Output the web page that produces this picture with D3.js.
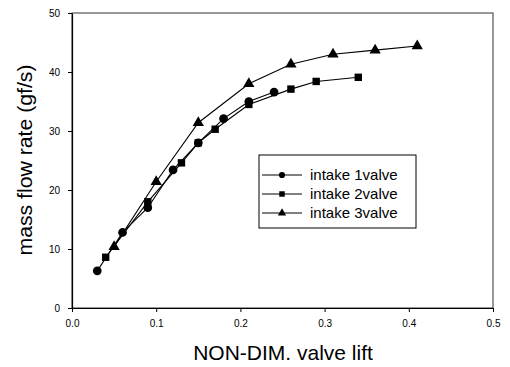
<!DOCTYPE html>
<html><head><meta charset="utf-8">
<script src="https://cdn.jsdelivr.net/npm/d3@7"></script>
<style>body{margin:0;background:#fff}svg{display:block}</style>
</head><body>
<svg id="c" width="510" height="367"></svg>
<script>
const seriesNames = ["intake 1valve", "intake 2valve", "intake 3valve"];
const x1 = [0.03, 0.06, 0.09, 0.12, 0.15, 0.18, 0.21, 0.24];
const y1 = [6.3, 12.8, 17.0, 23.4, 28.0, 32.1, 35.0, 36.6];
const x2 = [0.04, 0.09, 0.13, 0.15, 0.17, 0.21, 0.26, 0.29, 0.34];
const y2 = [8.6, 18.0, 24.6, 28.0, 30.3, 34.5, 37.1, 38.4, 39.1];
const x3 = [0.05, 0.10, 0.15, 0.21, 0.26, 0.31, 0.36, 0.41];
const y3 = [10.4, 21.4, 31.4, 38.0, 41.3, 43.0, 43.7, 44.4];
const xTicks = [0, 0.1, 0.2, 0.3, 0.4, 0.5];
const yTicks = [0, 10, 20, 30, 40, 50];

const svg = d3.select("#c");
const L = 72, R = 493, T = 13, B = 308;
const x = d3.scaleLinear().domain([0, 0.5]).range([L, R]);
const y = d3.scaleLinear().domain([0, 50]).range([B, T]);
const font = "Liberation Sans, Arial, sans-serif";

// frame
svg.append("rect").attr("x", L).attr("y", T).attr("width", R - L).attr("height", B - T)
  .attr("fill", "none").attr("stroke", "#333").attr("stroke-width", 1);

const xa = svg.append("g").attr("transform", `translate(0,${B})`)
  .call(d3.axisBottom(x).tickValues(xTicks).tickFormat(d3.format(".1f")).tickSize(4).tickSizeOuter(0));
const ya = svg.append("g").attr("transform", `translate(${L},0)`)
  .call(d3.axisLeft(y).tickValues(yTicks).tickFormat(d3.format("d")).tickSize(4).tickSizeOuter(0));
[xa, ya].forEach(g => {
  g.select(".domain").attr("stroke", "#000").attr("stroke-width", 1.2);
  g.selectAll(".tick line").attr("stroke", "#000");
  g.selectAll("text").attr("font-family", font).attr("font-size", 10).attr("fill", "#000");
});
xa.selectAll("text").attr("dy", "1.2em");
ya.selectAll("text").attr("dx", "-0.5em");

svg.append("text").attr("x", 283).attr("y", 360).attr("text-anchor", "middle")
  .attr("font-family", font).attr("font-size", 21).text("NON-DIM. valve lift");
svg.append("text").attr("transform", "translate(32,160) rotate(-90)").attr("text-anchor", "middle")
  .attr("font-family", font).attr("font-size", 21)
  .attr("textLength", 191).attr("lengthAdjust", "spacingAndGlyphs").text("mass flow rate (gf/s)");

const symbols = [d3.symbolCircle, d3.symbolSquare, d3.symbolTriangle];
const sizes = [60, 55, 55];
const data = [[x1, y1], [x2, y2], [x3, y3]];
const line = d3.line().x(d => x(d[0])).y(d => y(d[1]));
data.forEach(([xs, ys], i) => {
  const pts = xs.map((v, j) => [v, ys[j]]);
  svg.append("path").datum(pts).attr("d", line).attr("fill", "none").attr("stroke", "#000").attr("stroke-width", 1.1);
  svg.selectAll(null).data(pts).enter().append("path")
    .attr("d", d3.symbol().type(symbols[i]).size(sizes[i]))
    .attr("transform", d => `translate(${x(d[0])},${y(d[1])})`).attr("fill", "#000");
});

// legend
const lg = svg.append("g");
lg.append("rect").attr("x", 259).attr("y", 155).attr("width", 157).attr("height", 73)
  .attr("fill", "#fff").attr("stroke", "#000").attr("stroke-width", 1);
seriesNames.forEach((n, i) => {
  const yy = 175 + i * 19;
  lg.append("line").attr("x1", 262).attr("x2", 302).attr("y1", yy).attr("y2", yy).attr("stroke", "#000");
  lg.append("path").attr("d", d3.symbol().type(symbols[i]).size(30)).attr("transform", `translate(282,${yy})`);
  lg.append("text").attr("x", 310).attr("y", yy + 5).attr("font-family", font).attr("font-size", 15).text(n);
});
</script>
</body></html>
